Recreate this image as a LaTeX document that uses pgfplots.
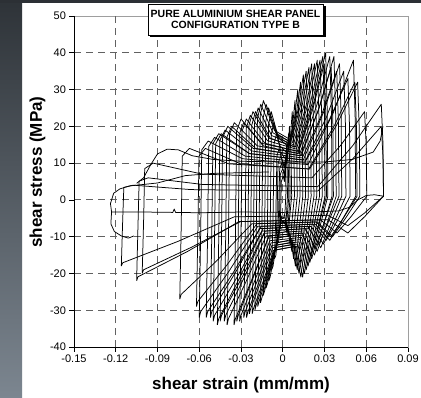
\documentclass[border=0pt]{standalone}
\usepackage{fontspec}
\setmainfont{Liberation Sans}
\usepackage{pgfplots}
\pgfplotsset{compat=1.18}
\usetikzlibrary{shadows}
\definecolor{stripTop}{RGB}{46,51,56}
\definecolor{stripBot}{RGB}{124,134,144}
\definecolor{stripBar}{RGB}{44,48,53}
\pgfplotsset{hyst/.style={black, solid, line width=0.75bp, mark=none, line join=round}}
\begin{document}
\begin{tikzpicture}[x=1bp,y=1bp]
\useasboundingbox (0,0) rectangle (421,398);
\fill[white] (0,0) rectangle (421,398);
\shade[top color=stripTop, bottom color=stripBot] (0,0) rectangle (22,398);
\fill[stripBar] (0,394.5) rectangle (421,398);
\begin{axis}[
  at={(74bp,51bp)}, anchor=south west, scale only axis, width=334bp, height=331bp,
  xmin=-0.15, xmax=0.09, ymin=-40, ymax=50,
  xtick={-0.15,-0.12,-0.09,-0.06,-0.03,0,0.03,0.06,0.09},
  xticklabels={-0.15,-0.12,-0.09,-0.06,-0.03,0,0.03,0.06,0.09},
  ytick={-40,-30,-20,-10,0,10,20,30,40,50},
  yticklabels={-40,-30,-20,-10,0,10,20,30,40,50},
  extra x ticks={-0.12,-0.09,-0.06,-0.03,0,0.03,0.06},
  extra x tick labels={},
  extra y ticks={-30,-20,-10,0,10,20,30,40},
  extra y tick labels={},
  extra tick style={grid=major},
  major grid style={dash pattern=on 7bp off 5bp, color=black!62, line width=0.9bp},
  tick pos=left, tick align=outside, major tick length=4.5bp,
  tick style={black, line width=0.6bp},
  axis line style={draw=black!38, line width=0.8bp},
  tick label style={font=\fontsize{11bp}{13bp}\selectfont},
  xlabel={shear strain (mm/mm)},
  ylabel={shear stress (MPa)},
  xlabel style={at={(rel axis cs:0.5,-0.1148)}, anchor=center, font=\bfseries\fontsize{17bp}{20bp}\selectfont},
  ylabel style={at={(rel axis cs:-0.1093,0.5287)}, anchor=center, font=\bfseries\fontsize{17bp}{20bp}\selectfont},
]
% small central cycles
\addplot[hyst] coordinates {(-0.002,-8) (-0.0014,-2) (-0.001,5) (0.0004,6.5) (0.0012,5) (0.0017,9) (0.002,11) (0.0023,2) (0.0016,-3.5) (0.0008,-5) (-0.0008,-4.5) (-0.0014,-6) (-0.002,-8)};
\addplot[hyst] coordinates {(-0.003,-10) (-0.0022,-2.5) (-0.0017,7) (0,8.5) (0.0014,7) (0.0024,11) (0.003,13) (0.0034,1) (0.0025,-5) (0.0014,-6.5) (-0.001,-5.5) (-0.0022,-7.5) (-0.003,-10)};
\addplot[hyst] coordinates {(-0.005,-14) (-0.004,-3) (-0.0034,10) (-0.0012,12) (0.001,9) (0.003,13) (0.0042,18) (0.005,10) (0.0053,1) (0.004,-6) (0.003,-9) (0.0015,-5.5) (-0.0015,-6.5) (-0.0035,-10) (-0.005,-14)};
% cycles: negative peak -> reload hump -> plateau -> positive peak -> unload -> bulge -> plateau -> negative peak
\addplot[hyst] coordinates {(-0.004,-12) (-0.003,-3.6) (-0.0022,8.5) (-0.0008,10) (0.0014,6) (0.002,10.5) (0.0028,15) (0.004,9) (0.0044,1) (0.0033,-4) (0.0026,-8) (0.0018,-4.8) (-0.0012,-5.2) (-0.0026,-8.6) (-0.003,-11.4) (-0.004,-12)};
\addplot[hyst] coordinates {(-0.006,-16) (-0.005,-4.8) (-0.0042,11.9) (-0.0026,14) (0,9.8) (0.0021,8.4) (0.004,14.2) (0.0048,20) (0.006,12) (0.0064,1) (0.0049,-5) (0.0039,-10) (0.0027,-6) (-0.0018,-6.5) (-0.0039,-11.3) (-0.005,-15.2) (-0.006,-16)};
\addplot[hyst] coordinates {(-0.008,-19) (-0.007,-5.7) (-0.0062,15.3) (-0.0045,18) (-0.001,12.6) (0.0028,10.8) (0.0056,17.4) (0.0068,24) (0.008,14.4) (0.0084,1) (0.0066,-6) (0.0052,-12) (0.0036,-7.2) (-0.0024,-7.8) (-0.0052,-13.4) (-0.007,-18.1) (-0.008,-19)};
\addplot[hyst] coordinates {(-0.010,-22) (-0.009,-6.6) (-0.0082,17.9) (-0.0064,21) (-0.002,14.7) (0.0035,12.6) (0.007,19.8) (0.0088,27) (0.010,16.2) (0.0104,1) (0.0082,-7) (0.0065,-14) (0.0045,-8.4) (-0.003,-9.1) (-0.0065,-15.6) (-0.009,-20.9) (-0.010,-22)};
\addplot[hyst] coordinates {(-0.012,-24) (-0.011,-7.2) (-0.0102,20.4) (-0.0083,24) (-0.003,16.8) (0.0042,14.4) (0.0084,22.2) (0.0108,30) (0.012,18) (0.0124,1) (0.0098,-8) (0.0078,-16) (0.0054,-9.6) (-0.0036,-10.4) (-0.0078,-17.2) (-0.011,-22.8) (-0.012,-24)};
\addplot[hyst] coordinates {(-0.014,-26) (-0.013,-7.8) (-0.0122,21.3) (-0.0102,25) (-0.004,17.5) (0.0049,15) (0.0098,23.5) (0.0128,32) (0.014,19.2) (0.0144,1) (0.0115,-9) (0.0091,-18) (0.0063,-10.8) (-0.0042,-11.7) (-0.0091,-18.9) (-0.013,-24.7) (-0.014,-26)};
\addplot[hyst] coordinates {(-0.016,-28) (-0.015,-8.4) (-0.0142,22.1) (-0.012,26) (-0.005,18.2) (0.0056,15.6) (0.0112,24.8) (0.0148,34) (0.016,20.4) (0.0164,1) (0.0131,-9.5) (0.0104,-19) (0.0072,-11.4) (-0.0048,-12.4) (-0.0104,-20.2) (-0.015,-26.6) (-0.016,-28)};
\addplot[hyst] coordinates {(-0.018,-29) (-0.017,-8.7) (-0.0162,23) (-0.0139,27) (-0.006,18.9) (0.0063,16.2) (0.0126,25.6) (0.0168,35) (0.018,21) (0.0184,1) (0.0148,-10) (0.0117,-20) (0.0081,-12) (-0.0054,-13) (-0.0117,-21) (-0.017,-27.6) (-0.018,-29)};
\addplot[hyst] coordinates {(-0.020,-30) (-0.019,-9) (-0.0182,22.1) (-0.0158,26) (-0.007,18.2) (0.007,15.6) (0.014,25.8) (0.0188,36) (0.020,21.6) (0.0204,1) (0.0164,-10.5) (0.013,-21) (0.009,-12.6) (-0.006,-13.7) (-0.013,-21.9) (-0.019,-28.5) (-0.020,-30)};
\addplot[hyst] coordinates {(-0.022,-31) (-0.021,-9.3) (-0.0202,21.3) (-0.0177,25) (-0.008,17.5) (0.0077,15) (0.0154,26) (0.0208,37) (0.022,22.2) (0.0224,1) (0.018,-10.5) (0.0143,-21) (0.0099,-12.6) (-0.0066,-13.7) (-0.0143,-22.4) (-0.021,-29.5) (-0.022,-31)};
\addplot[hyst] coordinates {(-0.024,-31) (-0.023,-9.3) (-0.0222,20.4) (-0.0196,24) (-0.009,16.8) (0.0084,14.4) (0.0168,25.7) (0.0228,37) (0.024,22.2) (0.0244,1) (0.0197,-10) (0.0156,-20) (0.0108,-12) (-0.0072,-13) (-0.0156,-22) (-0.023,-29.5) (-0.024,-31)};
\addplot[hyst] coordinates {(-0.026,-32) (-0.025,-9.6) (-0.0242,20.4) (-0.0214,24) (-0.010,16.8) (0.0091,14.4) (0.0182,26.2) (0.0248,38) (0.026,22.8) (0.0264,1) (0.0213,-9.5) (0.0169,-19) (0.0117,-11.4) (-0.0078,-12.4) (-0.0169,-22.2) (-0.025,-30.4) (-0.026,-32)};
\addplot[hyst] coordinates {(-0.028,-32) (-0.027,-9.6) (-0.0262,19.6) (-0.0233,23) (-0.011,16.1) (0.0098,13.8) (0.0196,25.9) (0.0268,38) (0.028,22.8) (0.0284,1) (0.023,-9) (0.0182,-18) (0.0126,-10.8) (-0.0084,-11.7) (-0.0182,-21.9) (-0.027,-30.4) (-0.028,-32)};
\addplot[hyst] coordinates {(-0.031,-33) (-0.030,-9.9) (-0.0292,18.7) (-0.0262,22) (-0.0128,15.4) (0.0105,13.2) (0.021,26.1) (0.0288,39) (0.030,23.4) (0.0304,1) (0.0246,-8.5) (0.0195,-17) (0.0135,-10.2) (-0.0093,-11.1) (-0.0202,-22.1) (-0.030,-31.4) (-0.031,-33)};
\addplot[hyst] coordinates {(-0.033,-33) (-0.032,-9.9) (-0.0312,17.9) (-0.0281,21) (-0.014,14.7) (0.0109,12.6) (0.0217,24.8) (0.0298,37) (0.031,22.2) (0.0314,1) (0.0254,-7.5) (0.0202,-15) (0.014,-9) (-0.0099,-9.8) (-0.0215,-21.4) (-0.032,-31.4) (-0.033,-33)};
\addplot[hyst] coordinates {(-0.035,-34) (-0.034,-10.2) (-0.0332,18.7) (-0.030,22) (-0.0153,15.4) (0.0112,13.2) (0.0224,26.6) (0.0308,40) (0.032,24) (0.0324,1) (0.0262,-8) (0.0208,-16) (0.0144,-9.6) (-0.0105,-10.4) (-0.0228,-22.2) (-0.034,-32.3) (-0.035,-34)};
\addplot[hyst] coordinates {(-0.040,-34) (-0.039,-10.2) (-0.0382,17.9) (-0.0348,21) (-0.0183,14.7) (0.0123,12.6) (0.0245,25.8) (0.0338,39) (0.035,23.4) (0.0354,1) (0.0287,-7.5) (0.0228,-15) (0.0158,-9) (-0.012,-9.8) (-0.026,-21.9) (-0.039,-32.3) (-0.040,-34)};
\addplot[hyst] coordinates {(-0.042,-33) (-0.041,-9.9) (-0.0402,17) (-0.0367,20) (-0.0195,14) (0.0126,12) (0.0252,24) (0.0348,36) (0.036,21.6) (0.0364,1) (0.0295,-6.5) (0.0234,-13) (0.0162,-7.8) (-0.0126,-8.5) (-0.0273,-20.8) (-0.041,-31.4) (-0.042,-33)};
\addplot[hyst] coordinates {(-0.045,-33) (-0.044,-9.9) (-0.0432,17) (-0.0395,20) (-0.0213,14) (0.0133,12) (0.0266,25.5) (0.0368,39) (0.038,23.4) (0.0384,1) (0.0312,-7) (0.0247,-14) (0.0171,-8.4) (-0.0135,-9.1) (-0.0293,-21.1) (-0.044,-31.4) (-0.045,-33)};
\addplot[hyst] coordinates {(-0.047,-34) (-0.046,-10.2) (-0.0452,16.2) (-0.0414,19) (-0.0223,13.3) (0.014,11.4) (0.028,23.2) (0.0388,35) (0.040,21) (0.0404,1) (0.0328,-6) (0.026,-12) (0.018,-7.2) (-0.0141,-7.8) (-0.0306,-20.9) (-0.046,-32.3) (-0.047,-34)};
\addplot[hyst] coordinates {(-0.050,-33) (-0.049,-9.9) (-0.0482,15.3) (-0.0442,18) (-0.024,12.6) (0.0147,10.8) (0.0294,23.9) (0.0408,37) (0.042,22.2) (0.0424,1) (0.0344,-6.5) (0.0273,-13) (0.0189,-7.8) (-0.015,-8.5) (-0.0325,-20.8) (-0.049,-31.4) (-0.050,-33)};
\addplot[hyst] coordinates {(-0.052,-32) (-0.051,-9.6) (-0.0502,15.3) (-0.046,18) (-0.024,12.6) (0.0168,10.8) (0.0336,21.9) (0.0468,33) (0.048,19.8) (0.0484,1) (0.0394,-5.5) (0.0312,-11) (0.0216,-6.6) (-0.0156,-7.2) (-0.0338,-19.6) (-0.051,-30.4) (-0.052,-32)};
\addplot[hyst] coordinates {(-0.055,-32) (-0.054,-9.6) (-0.0532,14.5) (-0.049,17) (-0.027,11.9) (0.0158,10.2) (0.0315,22.6) (0.0438,35) (0.045,21) (0.0454,1) (0.0369,-6) (0.0293,-12) (0.0203,-7.2) (-0.0165,-7.8) (-0.0358,-19.9) (-0.054,-30.4) (-0.055,-32)};
\addplot[hyst] coordinates {(-0.060,-32) (-0.059,-9.6) (-0.0582,13.6) (-0.0536,16) (-0.029,11.2) (0.0182,9.6) (0.0364,23.8) (0.0508,38) (0.052,22.8) (0.0524,1) (0.0426,-5.5) (0.0338,-11) (0.0234,-6.6) (-0.018,-7.2) (-0.039,-19.6) (-0.059,-30.4) (-0.060,-32)};
\addplot[hyst] coordinates {(-0.062,-29) (-0.061,-8.7) (-0.0602,11.9) (-0.0556,14) (-0.0303,9.8) (0.0186,8.4) (0.0371,20.2) (0.0518,32) (0.053,19.2) (0.0534,1) (0.0435,-5) (0.0345,-10) (0.0239,-6) (-0.0186,-6.5) (-0.0403,-17.8) (-0.061,-27.6) (-0.062,-29)};
\addplot[hyst] coordinates {(-0.074,-27) (-0.073,-8.1) (-0.0722,11.9) (-0.0671,14) (-0.0388,9.8) (0.0193,8.4) (0.0385,20.2) (0.0538,32) (0.055,19.2) (0.0554,1) (0.0451,-5) (0.0358,-10) (0.0248,-6) (-0.0222,-6.5) (-0.0481,-16.8) (-0.073,-25.7) (-0.074,-27)};
\addplot[hyst] coordinates {(-0.101,-20) (-0.100,-6) (-0.0992,8.5) (-0.0932,10) (-0.0578,7) (0.021,6) (0.042,15) (0.0588,24) (0.060,14.4) (0.0604,1) (0.0492,-4.5) (0.039,-9) (0.027,-5.4) (-0.0303,-5.9) (-0.0657,-12.9) (-0.100,-19) (-0.101,-20)};
\addplot[hyst] coordinates {(-0.105,-22) (-0.104,-6.6) (-0.1032,5.1) (-0.0967,6) (-0.0578,4.2) (0.0252,3.6) (0.0504,14.8) (0.0708,26) (0.072,15.6) (0.0724,1) (0.059,-4.5) (0.0468,-9) (0.0324,-5.4) (-0.0315,-5.9) (-0.0683,-14) (-0.104,-20.9) (-0.105,-22)};
\addplot[hyst] coordinates {(-0.116,-18) (-0.115,-5.4) (-0.1142,3.4) (-0.1074,4) (-0.066,2.8) (0.0252,2.4) (0.0504,11.2) (0.0708,20) (0.072,12) (0.0724,1) (0.059,-3.5) (0.0468,-7) (0.0324,-4.2) (-0.0348,-4.6) (-0.0754,-11.3) (-0.115,-17.1) (-0.116,-18)};
% further branches
\addplot[hyst] coordinates {(-0.105,4.5) (-0.100,6) (-0.095,9.5) (-0.090,12.5) (-0.083,13.8) (-0.075,13.6) (-0.065,12) (-0.050,11) (-0.030,10.5) (0,10.3) (0.030,10.3) (0.050,11) (0.065,13) (0.070,16) (0.072,20)};
\addplot[hyst] coordinates {(0.0724,1) (0.066,1.4) (0.060,1.2) (0.054,0) (0.048,-2) (0.040,-3) (0.020,-3.3) (0,-3.4) (-0.030,-3.3) (-0.060,-3.5) (-0.077,-3.4) (-0.078,-2.5) (-0.079,-3.4) (-0.100,-3.3) (-0.123,-3.3) (-0.1235,-6.5) (-0.121,-8.6) (-0.116,-9.8) (-0.111,-10.4) (-0.107,-9.8)};
\addplot[hyst] coordinates {(-0.123,-3.3) (-0.1238,-1) (-0.1215,1.8) (-0.117,3) (-0.110,3.8) (-0.100,4.2) (-0.090,4.6) (-0.080,5.6) (-0.070,6.6) (-0.050,7.2) (-0.030,7.4) (-0.010,7.6)};
\draw[black, line width=0.8bp] (rel axis cs:0,1) -- (rel axis cs:0,0) -- (rel axis cs:1,0);
\end{axis}
\node[draw=black, line width=0.9bp, fill=white,
  drop shadow={shadow xshift=2.5bp, shadow yshift=-2.5bp, opacity=1, fill=black},
  minimum width=175bp, minimum height=31bp, inner sep=0pt, align=center,
  font=\bfseries\fontsize{10.5bp}{11.5bp}\selectfont] at (235.5,378.5)
  {PURE ALUMINIUM SHEAR PANEL\\CONFIGURATION TYPE B};
\end{tikzpicture}
\end{document}
